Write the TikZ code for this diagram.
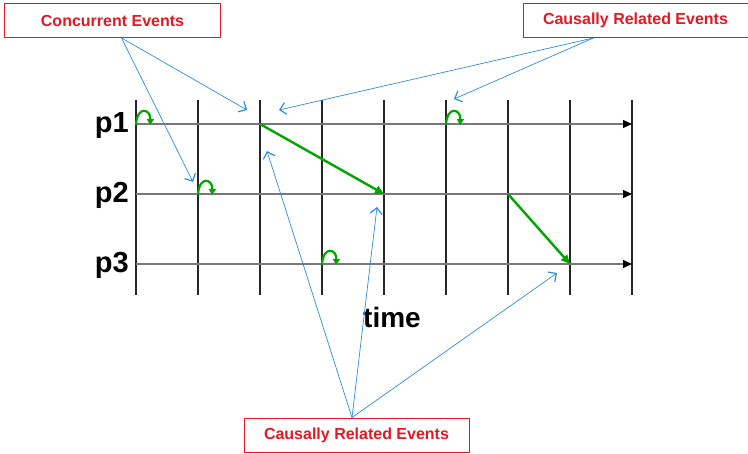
\documentclass[tikz,border=0pt]{standalone}
\usepackage{fontspec}
\setmainfont{Liberation Sans}
\usetikzlibrary{arrows.meta}
\definecolor{callred}{RGB}{225,25,35}
\definecolor{callblue}{RGB}{45,140,220}
\definecolor{evgreen}{RGB}{0,165,0}
\definecolor{axisgray}{RGB}{120,120,120}
\begin{document}
\begin{tikzpicture}[x=1pt,y=-1pt,
  callbox/.style={draw=callred, line width=0.9pt, text=callred,
    font=\bfseries\fontsize{16}{18}\selectfont, inner sep=0pt, minimum height=34pt},
  pointer/.style={draw=callblue, line width=0.7pt, -{Straight Barb[length=6pt,width=12pt,line width=1.2pt]}},
  tick/.style={draw=black!85, line width=1.6pt},
  procline/.style={draw=axisgray, line width=1.4pt, -{Triangle[length=9pt,width=8pt,fill=black,color=black]}},
  msg/.style={draw=evgreen, line width=2.4pt, -{Triangle[length=9pt,width=8pt]}},
  curl/.style={draw=evgreen, line width=2.2pt, -{Triangle[length=6pt,width=7pt]}},
  plabel/.style={font=\bfseries\fontsize{29}{32}\selectfont, anchor=base east, inner sep=0pt},
]
\useasboundingbox (0,0) rectangle (748,454);

% vertical time ticks
\foreach \i in {0,...,8} {
  \draw[tick] (136+62*\i,100) -- (136+62*\i,295);
}

% process lines
\foreach \n/\y in {1/124,2/194,3/264} {
  \coordinate (s\n) at (136,\y);
  \coordinate (e\n) at (632,\y);
  \draw[procline] (s\n) -- (e\n);
}
\node[plabel] (p1) at (129,133) {p1};
\node[plabel] (p2) at (129,203) {p2};
\node[plabel] (p3) at (129,273) {p3};

\node[font=\bfseries\fontsize{28}{30}\selectfont, anchor=base, inner sep=0pt] (time) at (392,328) {time};

% events
\coordinate (a1) at (136,124);
\coordinate (b2) at (198,194);
\coordinate (c1) at (260,124);
\coordinate (d3) at (322,264);
\coordinate (e2) at (384,194);
\coordinate (f1) at (446,124);
\coordinate (g2) at (508,194);
\coordinate (h3) at (570,264);

% local events (green curls)
\foreach \p in {a1,b2,f1,d3} {
  \draw[curl] ([yshift=-1pt]\p) .. controls +(1,-20) and +(1,-16) .. +(14,0);
}
% messages
\draw[msg] (c1) -- (e2);
\draw[msg] (g2) -- (h3);

% callout boxes
\node[callbox, minimum width=216pt] (cc) at (112.5,20.5) {Concurrent Events};
\node[callbox, minimum width=225pt] (cr1) at (635.5,20.5) {Causally Related Events};
\node[callbox, minimum width=225pt] (cr2) at (356.5,435) {Causally Related Events};

% pointer targets
\coordinate (t1) at (247,110);
\coordinate (t2) at (193,182);
\coordinate (t3) at (279,110);
\coordinate (t4) at (454,99);
\coordinate (t5) at (267,151);
\coordinate (t6) at (377,207);
\coordinate (t7) at (557,273);

\draw[pointer] ([xshift=9pt]cc.south) -- (t1);
\draw[pointer] ([xshift=9pt]cc.south) -- (t2);
\draw[pointer] ([xshift=-42pt]cr1.south) -- (t3);
\draw[pointer] ([xshift=-42pt]cr1.south) -- (t4);
\draw[pointer] ([xshift=-4.5pt]cr2.north) -- (t5);
\draw[pointer] ([xshift=-4.5pt]cr2.north) -- (t6);
\draw[pointer] ([xshift=-4.5pt]cr2.north) -- (t7);
\end{tikzpicture}
\end{document}
